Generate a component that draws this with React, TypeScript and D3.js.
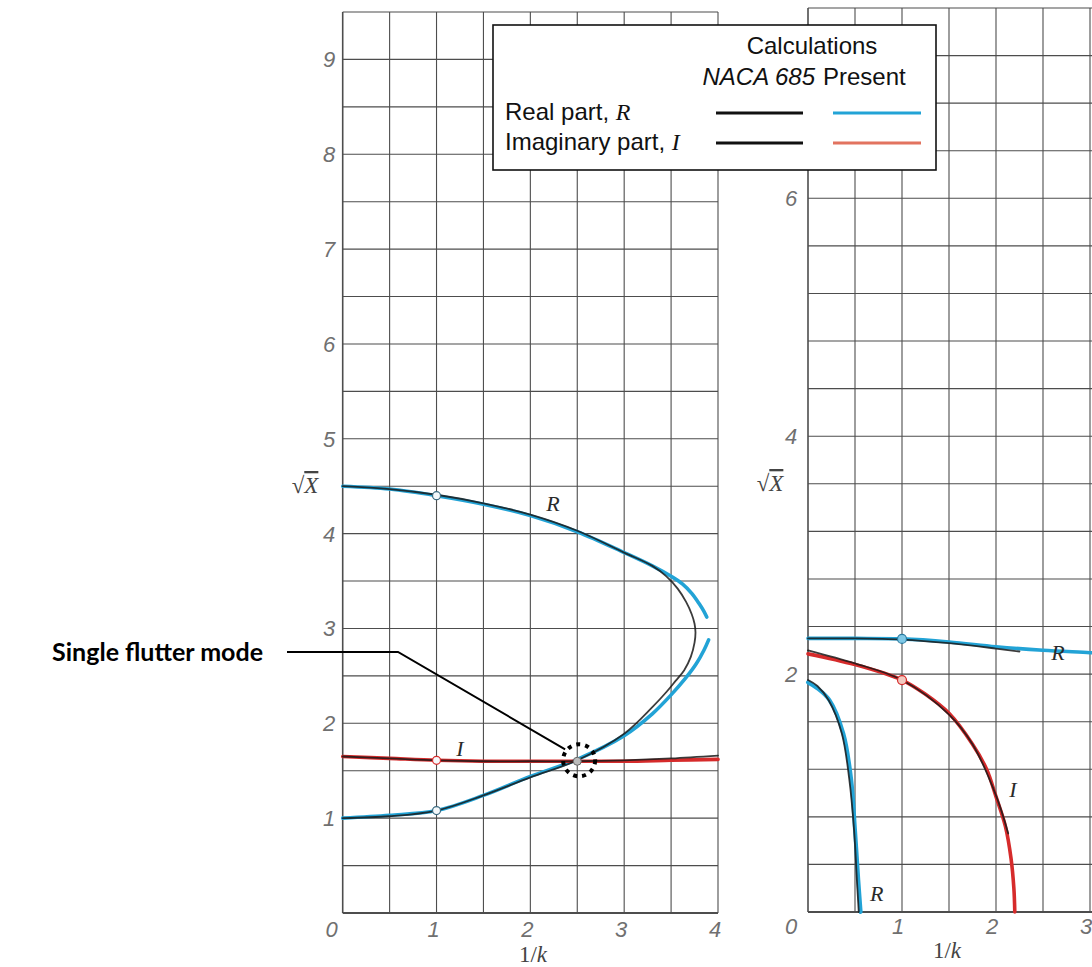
import * as d3 from "d3";

// ---- tick labels ----
const leftXTicks = [0, 1, 2, 3, 4];
const leftYTicks = [1, 2, 3, 4, 5, 6, 7, 8, 9];
const rightXTicks = [0, 1, 2, 3];
const rightYTicks = [2, 4, 6];

// ---- left panel: NACA 685 (black) ----
const leftRNacaX = [0, 0.5, 1, 1.5, 2, 2.5, 3, 3.3, 3.45, 3.57, 3.66, 3.72, 3.75, 3.76, 3.75, 3.71, 3.64, 3.55, 3.45, 3.3, 3, 2.5, 2, 1.5, 1, 0.5, 0];
const leftRNacaY = [4.5, 4.47, 4.41, 4.32, 4.2, 4.03, 3.8, 3.66, 3.55, 3.42, 3.28, 3.15, 3.05, 2.96, 2.85, 2.7, 2.56, 2.45, 2.33, 2.17, 1.89, 1.61, 1.43, 1.24, 1.08, 1.02, 1.0];
const leftINacaX = [0, 0.5, 1, 1.5, 2, 2.5, 3, 3.5, 4];
const leftINacaY = [1.65, 1.63, 1.61, 1.6, 1.6, 1.6, 1.61, 1.63, 1.66];

// ---- left panel: present (colour) ----
const leftRUpperX = [0, 0.5, 1, 1.5, 2, 2.5, 3, 3.3, 3.5, 3.62, 3.72, 3.8, 3.85, 3.88];
const leftRUpperY = [4.5, 4.47, 4.4, 4.31, 4.19, 4.02, 3.8, 3.66, 3.55, 3.47, 3.37, 3.26, 3.18, 3.12];
const leftRLowerX = [0, 0.5, 1, 1.5, 2, 2.5, 3, 3.3, 3.5, 3.65, 3.77, 3.85, 3.9];
const leftRLowerY = [1.0, 1.03, 1.08, 1.24, 1.44, 1.62, 1.87, 2.1, 2.3, 2.47, 2.63, 2.77, 2.88];
const leftIX = [0, 0.5, 1, 1.5, 2, 2.5, 3, 3.5, 4];
const leftIY = [1.65, 1.63, 1.61, 1.6, 1.6, 1.6, 1.6, 1.61, 1.62];

// ---- right panel: NACA 685 (black) ----
const rightRUpperNacaX = [0, 0.5, 1, 1.5, 2, 2.25];
const rightRUpperNacaY = [2.3, 2.3, 2.29, 2.26, 2.215, 2.19];
const rightRLowerNacaX = [0, 0.1, 0.22, 0.36, 0.44, 0.49, 0.52, 0.54];
const rightRLowerNacaY = [1.95, 1.9, 1.78, 1.5, 1.11, 0.69, 0.27, 0];
const rightINacaX = [0, 0.5, 1, 1.5, 1.75, 2.0, 2.13];
const rightINacaY = [2.2, 2.09, 1.95, 1.66, 1.41, 0.98, 0.66];

// ---- right panel: present (colour) ----
const rightRUpperX = [0, 0.5, 1, 1.5, 2, 2.5, 3, 3.2];
const rightRUpperY = [2.3, 2.3, 2.296, 2.27, 2.23, 2.2, 2.18, 2.17];
const rightRLowerX = [0, 0.1, 0.23, 0.376, 0.46, 0.5, 0.535, 0.56];
const rightRLowerY = [1.93, 1.88, 1.78, 1.5, 1.11, 0.69, 0.27, 0];
const rightIX = [0, 0.5, 1, 1.25, 1.5, 1.75, 1.9, 2.0, 2.1, 2.16, 2.19, 2.2];
const rightIY = [2.17, 2.08, 1.95, 1.83, 1.67, 1.41, 1.2, 0.97, 0.72, 0.45, 0.2, 0];

// marked points at 1/k = 1
const leftMarkX = [1, 1, 1];
const leftMarkY = [4.4, 1.08, 1.61];
const rightMarkX = [1, 1];
const rightMarkY = [2.296, 1.95];

const BLUE = "#22a3d6";
const RED = "#d62b2b";
const SALMON = "#e2735f";
const INK = "#1a1a1a";
const GRID = "#4d4d4d";

const W = 1092;
const H = 967;

const xL = d3.scaleLinear().domain([0, 4]).range([342.7, 718]);
const yL = d3.scaleLinear().domain([0, 9.5]).range([913, 12]);
const xR = d3.scaleLinear().domain([0, 3]).range([808, 1090]);
const yR = d3.scaleLinear().domain([0, 7.6]).range([912, 8]);

function pathOf(xs: number[], ys: number[], sx: any, sy: any) {
  const line = d3
    .line<number>()
    .x((d, i) => sx(xs[i]))
    .y((d, i) => sy(ys[i]))
    .curve(d3.curveCatmullRom.alpha(0.5));
  return line(xs) ?? "";
}

function Grid({ sx, sy, xMax, yMax, xStep, yStep }: any) {
  const xs = d3.range(0, xMax + 1e-6, xStep);
  const ys = d3.range(0, yMax + 1e-6, yStep);
  return (
    <g stroke={GRID} strokeWidth={1.1} fill="none">
      {xs.map((v: number) => (
        <line key={"x" + v} x1={sx(v)} x2={sx(v)} y1={sy(0)} y2={sy(yMax)} strokeWidth={v === 0 ? 1.6 : 1.1} />
      ))}
      {ys.map((v: number) => (
        <line key={"y" + v} x1={sx(0)} x2={sx(xMax)} y1={sy(v)} y2={sy(v)} strokeWidth={v === 0 ? 2 : 1.1} />
      ))}
    </g>
  );
}

const tickFont = {
  fontFamily: "'Liberation Sans', Arial, sans-serif",
  fontStyle: "italic" as const,
  fontSize: 22,
  fill: "#707070",
};
const serifItalic = {
  fontFamily: "'Liberation Serif', 'DejaVu Serif', serif",
  fontStyle: "italic" as const,
  fill: "#2a2a2a",
};

export default function App() {
  const sans = "'Liberation Sans', Arial, Helvetica, sans-serif";
  const hit = { x: xL(2.52), y: yL(1.61) };
  return (
    <svg
      width={W}
      height={H}
      style={{ position: "absolute", left: 0, top: 0, background: "#fff" }}
    >
      <rect x={0} y={0} width={W} height={H} fill="#fff" />

      {/* grids */}
      <Grid sx={xL} sy={yL} xMax={4} yMax={9.5} xStep={0.5} yStep={0.5} />
      <Grid sx={xR} sy={yR} xMax={3.5} yMax={7.6} xStep={0.5} yStep={0.4} />

      {/* present calculations */}
      <g fill="none" strokeLinecap="round">
        <path d={pathOf(leftRUpperX, leftRUpperY, xL, yL)} stroke={BLUE} strokeWidth={3.6} />
        <path d={pathOf(leftRLowerX, leftRLowerY, xL, yL)} stroke={BLUE} strokeWidth={3.6} />
        <path d={pathOf(leftIX, leftIY, xL, yL)} stroke={RED} strokeWidth={3.6} />
        <path d={pathOf(rightRUpperX, rightRUpperY, xR, yR)} stroke={BLUE} strokeWidth={3.6} />
        <path d={pathOf(rightRLowerX, rightRLowerY, xR, yR)} stroke={BLUE} strokeWidth={4} />
        <path d={pathOf(rightIX, rightIY, xR, yR)} stroke={RED} strokeWidth={3.6} />
      </g>

      {/* NACA 685 */}
      <g fill="none" stroke={INK} strokeWidth={1.8} strokeLinecap="round" opacity={0.85}>
        <path d={pathOf(leftRNacaX, leftRNacaY, xL, yL)} />
        <path d={pathOf(leftINacaX, leftINacaY, xL, yL)} />
        <path d={pathOf(rightRUpperNacaX, rightRUpperNacaY, xR, yR)} />
        <path d={pathOf(rightRLowerNacaX, rightRLowerNacaY, xR, yR)} />
        <path d={pathOf(rightINacaX, rightINacaY, xR, yR)} />
      </g>

      {/* marked points */}
      {leftMarkX.map((v, i) => (
        <circle key={"lm" + i} cx={xL(v)} cy={yL(leftMarkY[i])} r={4}
          fill="#f4f8fa" stroke={i === 2 ? RED : "#3a6a80"} strokeWidth={1.2} />
      ))}
      {rightMarkX.map((v, i) => (
        <circle key={"rm" + i} cx={xR(v)} cy={yR(rightMarkY[i])} r={4.5}
          fill={i === 0 ? "#7fc8e6" : "#f2c9c0"} stroke={i === 0 ? "#2a7aa0" : RED} strokeWidth={1.2} />
      ))}
      <circle cx={xL(2.5)} cy={yL(1.6)} r={4} fill="#bbb" stroke="#666" strokeWidth={1} />

      {/* curve labels */}
      <g {...serifItalic} fontSize={22} textAnchor="middle">
        <text x={xL(2.24)} y={yL(4.32) + 8}>R</text>
        <text x={xL(1.25)} y={yL(1.74) + 8}>I</text>
        <text x={xR(2.66)} y={yR(2.19) + 8}>R</text>
        <text x={xR(2.18)} y={yR(1.03) + 8}>I</text>
        <text x={xR(0.73)} y={yR(0.16) + 8}>R</text>
      </g>

      {/* tick labels */}
      <g {...tickFont} textAnchor="middle">
        {leftXTicks.map((v) => (
          <text key={"lx" + v} x={xL(v) + (v === 0 ? -11 : -3)} y={937}>{v}</text>
        ))}
        {leftYTicks.map((v) => (
          <text key={"ly" + v} x={329} y={yL(v) + 8}>{v}</text>
        ))}
        {rightXTicks.map((v) => (
          <text key={"rx" + v} x={xR(v) + (v === 0 ? -17 : -4)} y={934}>{v}</text>
        ))}
        {rightYTicks.map((v) => (
          <text key={"ry" + v} x={791} y={yR(v) + 8}>{v}</text>
        ))}
      </g>

      {/* axis titles */}
      <g fontFamily="'Liberation Serif', 'DejaVu Serif', serif" fill="#444" fontSize={23} textAnchor="middle">
        <text x={533} y={962}>1/<tspan fontStyle="italic">k</tspan></text>
        <text x={947} y={958}>1/<tspan fontStyle="italic">k</tspan></text>
        <text x={305} y={493} fontStyle="italic">
          √<tspan style={{ textDecoration: "overline" }}>X</tspan>
        </text>
        <text x={770} y={491} fontStyle="italic">
          √<tspan style={{ textDecoration: "overline" }}>X</tspan>
        </text>
      </g>

      {/* legend */}
      <g>
        <rect x={493} y={25} width={443} height={145} fill="#fff" stroke="#111" strokeWidth={1.6} />
        <text x={812} y={54} fontFamily={sans} fontSize={24} textAnchor="middle" fill="#111">Calculations</text>
        <text x={815} y={85} fontFamily={sans} fontSize={24} fontStyle="italic" textAnchor="end" fill="#111">NACA 685</text>
        <text x={823} y={85} fontFamily={sans} fontSize={24} fill="#111">Present</text>
        <text x={505} y={120} fontFamily={sans} fontSize={24} fill="#111">
          Real part,{" "}
          <tspan fontFamily="'Liberation Serif', serif" fontStyle="italic">R</tspan>
        </text>
        <text x={505} y={150} fontFamily={sans} fontSize={24} fill="#111">
          Imaginary part,{" "}
          <tspan fontFamily="'Liberation Serif', serif" fontStyle="italic">I</tspan>
        </text>
        <line x1={716} x2={803} y1={113} y2={113} stroke="#111" strokeWidth={3} />
        <line x1={716} x2={803} y1={143} y2={143} stroke="#111" strokeWidth={3} />
        <line x1={833} x2={921} y1={113} y2={113} stroke={BLUE} strokeWidth={3} />
        <line x1={833} x2={921} y1={143} y2={143} stroke={SALMON} strokeWidth={3} />
      </g>

      {/* annotation */}
      <text x={263} y={661} fontFamily="Lato, 'Open Sans', sans-serif" fontWeight={700} fontSize={25} textAnchor="end" fill="#000">
        Single flutter mode
      </text>
      <polyline
        points={`287,652 398,652 ${hit.x - 14},${hit.y - 11}`}
        fill="none"
        stroke="#000"
        strokeWidth={2}
      />
      <circle cx={hit.x} cy={hit.y} r={16} fill="none" stroke="#000" strokeWidth={4} strokeDasharray="4 5" />
    </svg>
  );
}
